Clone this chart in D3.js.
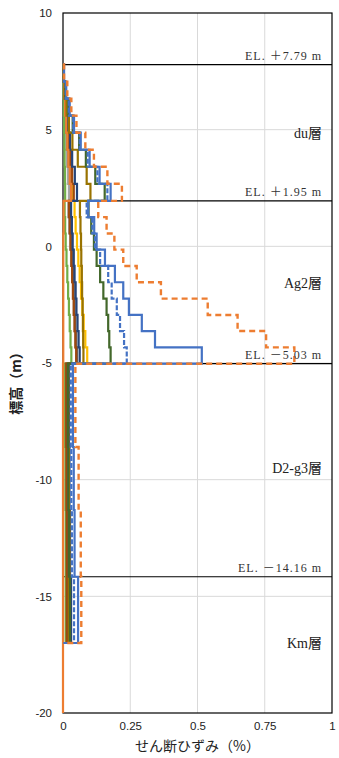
<!DOCTYPE html>
<html>
<head>
<meta charset="utf-8">
<title>せん断ひずみ分布</title>
<script src="https://cdn.jsdelivr.net/npm/d3@7"></script>
<style>
body { margin: 0; background: #fff; }
svg { display: block; }
.tick text { font-family: "Liberation Sans", Arial, sans-serif; font-size: 11.5px; fill: #222; }
.layer { font-family: "Liberation Serif", "Noto Sans CJK JP", serif; font-size: 14px; fill: #222; }
.el { font-family: "Liberation Serif", "Noto Sans CJK JP", serif; font-size: 12px; fill: #333; letter-spacing: 1px; }
.title { font-family: "Noto Sans CJK JP", sans-serif; font-size: 14px; fill: #222; }
</style>
</head>
<body>
<div id="chart"></div>
<script>
// sublayer boundaries (elevation, m), top to bottom
var bounds = [7.79, 7.06, 6.33, 5.60, 4.87, 4.14, 3.41, 2.68, 1.95,
    1.25, 0.55, -0.14, -0.84, -1.54, -2.24, -2.94, -3.63, -4.33, -5.03,
    -8.6, -11.3, -14.16, -17.0, -20.0];

// shear strain (%) per sublayer: du(8), Ag2(10), D2-g3(3), Km(1)
var gray      = [0.001, 0.003, 0.006, 0.009, 0.012, 0.015, 0.018, 0.022,
    0.020, 0.023, 0.027, 0.030, 0.034, 0.037, 0.040, 0.043, 0.046, 0.050,
    0.010, 0.011, 0.012, 0.012];
var green     = [0.001, 0.002, 0.003, 0.004, 0.005, 0.006, 0.007, 0.008,
    0.006, 0.008, 0.010, 0.013, 0.016, 0.019, 0.022, 0.025, 0.028, 0.031,
    0.008, 0.009, 0.010, 0.010];
var gold      = [0.001, 0.004, 0.008, 0.013, 0.018, 0.024, 0.030, 0.036,
    0.043, 0.047, 0.052, 0.057, 0.062, 0.067, 0.072, 0.077, 0.083, 0.090,
    0.015, 0.016, 0.017, 0.015];
var darkGray  = [0.002, 0.005, 0.009, 0.013, 0.017, 0.021, 0.026, 0.030,
    0.025, 0.028, 0.031, 0.034, 0.037, 0.040, 0.043, 0.046, 0.049, 0.052,
    0.014, 0.015, 0.016, 0.016];
var brown     = [0.002, 0.006, 0.011, 0.016, 0.022, 0.028, 0.034, 0.040,
    0.022, 0.025, 0.028, 0.031, 0.034, 0.037, 0.040, 0.043, 0.046, 0.049,
    0.012, 0.013, 0.014, 0.014];
var darkBlue  = [0.002, 0.006, 0.012, 0.018, 0.026, 0.034, 0.044, 0.052,
    0.030, 0.033, 0.036, 0.040, 0.043, 0.047, 0.050, 0.054, 0.058, 0.062,
    0.022, 0.024, 0.026, 0.030];
var orange    = [0.002, 0.005, 0.008, 0.012, 0.016, 0.020, 0.025, 0.030,
    0.002, 0.002, 0.001, 0.001, 0.001, 0.001, 0.001, 0.001, 0.001, 0.001,
    0, 0, 0, 0, 0];
var darkGold  = [0.002, 0.006, 0.013, 0.022, 0.035, 0.055, 0.088, 0.102,
    0.063, 0.065, 0.067, 0.068, 0.070, 0.071, 0.073, 0.074, 0.075, 0.076,
    0.020, 0.022, 0.024, 0.022];
var darkGreen = [0.003, 0.009, 0.020, 0.036, 0.060, 0.085, 0.120, 0.155,
    0.095, 0.105, 0.115, 0.125, 0.138, 0.150, 0.162, 0.168, 0.172, 0.177,
    0.018, 0.020, 0.022, 0.026];
var blueDash  = [0.003, 0.010, 0.022, 0.038, 0.062, 0.092, 0.128, 0.165,
    0.088, 0.109, 0.119, 0.138, 0.168, 0.181, 0.200, 0.212, 0.227, 0.237,
    0.029, 0.031, 0.033, 0.041];
var blue      = [0.004, 0.012, 0.025, 0.041, 0.066, 0.099, 0.136, 0.177,
    0.094, 0.116, 0.125, 0.156, 0.193, 0.224, 0.245, 0.293, 0.342, 0.516,
    0.037, 0.040, 0.043, 0.056];
var orangeDash = [0.004, 0.016, 0.031, 0.050, 0.083, 0.115, 0.165, 0.219,
    0.131, 0.162, 0.191, 0.224, 0.274, 0.364, 0.538, 0.649, 0.755, 0.860,
    0.046, 0.058, 0.066, 0.068];

// layer boundaries and labels
var layerLines = [7.79, 1.95, -5.03, -14.16];
var elLabels = ["EL. ＋7.79 m", "EL. ＋1.95 m", "EL. －5.03 m", "EL. －14.16 m"];
var layerNames = ["du層", "Ag2層", "D2-g3層", "Km層"];
var layerMid = [4.86, -1.57, -9.5, -17.0];

var xTicks = [0, 0.25, 0.5, 0.75, 1],
    yTicks = [10, 5, 0, -5, -10, -15, -20];

var series = [
    { v: gray, c: "#A5A5A5" },
    { v: green, c: "#70AD47" },
    { v: gold, c: "#FFC000" },
    { v: darkGray, c: "#636363" },
    { v: brown, c: "#9E480E" },
    { v: darkBlue, c: "#264478" },
    { v: orange, c: "#ED7D31" },
    { v: darkGold, c: "#997300" },
    { v: darkGreen, c: "#43682B" },
    { v: blueDash, c: "#4472C4", dash: "5,2" },
    { v: blue, c: "#4472C4" },
    { v: orangeDash, c: "#ED7D31", dash: "6,4", w: 2.4 }
];

var width = 339, height = 758;
var margin = {top: 13, right: 7, bottom: 45, left: 63};

var x = d3.scaleLinear()
    .domain([0, 1])
    .range([margin.left, width - margin.right]);
var y = d3.scaleLinear()
    .domain([-20, 10])
    .range([height - margin.bottom, margin.top]);

var svg = d3.select('#chart').append('svg')
    .attr('width', width)
    .attr('height', height);

// grid
svg.append('g')
    .selectAll('line.vg')
    .data(xTicks.slice(1, -1))
  .enter().append('line')
    .attr('x1', d => x(d)).attr('x2', d => x(d))
    .attr('y1', y(10)).attr('y2', y(-20))
    .attr('stroke', '#d9d9d9').attr('stroke-width', 1);
svg.append('g')
    .selectAll('line.hg')
    .data(yTicks.slice(1, -1))
  .enter().append('line')
    .attr('x1', x(0)).attr('x2', x(1))
    .attr('y1', d => y(d)).attr('y2', d => y(d))
    .attr('stroke', '#d9d9d9').attr('stroke-width', 1);

// frame
svg.append('rect')
    .attr('x', x(0)).attr('y', y(10))
    .attr('width', x(1) - x(0)).attr('height', y(-20) - y(10))
    .attr('fill', 'none').attr('stroke', '#000').attr('stroke-width', 1.2);

// layer boundaries
svg.append('g')
    .selectAll('line')
    .data(layerLines)
  .enter().append('line')
    .attr('x1', x(0)).attr('x2', x(1))
    .attr('y1', d => y(d)).attr('y2', d => y(d))
    .attr('stroke', '#000').attr('stroke-width', 1.2);

// step profiles
function stepPoints(vals) {
    var pts = [[0, bounds[0]]];
    vals.forEach(function(v, i) {
        pts.push([v, bounds[i]]);
        pts.push([v, bounds[i + 1]]);
    });
    pts.push([0, bounds[vals.length]]);
    return pts;
}
var line = d3.line()
    .x(d => x(d[0]))
    .y(d => y(d[1]));

svg.append('g')
    .selectAll('path')
    .data(series)
  .enter().append('path')
    .attr('d', d => line(stepPoints(d.v)))
    .attr('fill', 'none')
    .attr('stroke', d => d.c)
    .attr('stroke-width', d => d.w || 2.2)
    .attr('stroke-dasharray', d => d.dash || null);

// axes
var yAxis = d3.axisLeft(y)
    .tickValues(yTicks)
    .tickFormat(d => String(d))
    .tickSize(0)
    .tickPadding(11);
svg.append('g')
    .attr('transform', 'translate(' + x(0) + ',0)')
    .call(yAxis)
    .call(g => g.select('.domain').remove());

var xAxis = d3.axisBottom(x)
    .tickValues(xTicks)
    .tickFormat(d => String(d))
    .tickSize(0)
    .tickPadding(9);
svg.append('g')
    .attr('transform', 'translate(0,' + y(-20) + ')')
    .call(xAxis)
    .call(g => g.select('.domain').remove());

// EL labels
svg.append('g')
    .selectAll('text')
    .data(layerLines)
  .enter().append('text')
    .attr('class', 'el')
    .attr('x', x(1) - 10)
    .attr('y', d => y(d) - 5)
    .attr('text-anchor', 'end')
    .text((d, i) => elLabels[i]);

// layer names
svg.append('g')
    .selectAll('text')
    .data(layerMid)
  .enter().append('text')
    .attr('class', 'layer')
    .attr('x', x(1) - 10)
    .attr('y', d => y(d))
    .attr('dy', '0.35em')
    .attr('text-anchor', 'end')
    .text((d, i) => layerNames[i]);

// axis titles
svg.append('text')
    .attr('class', 'title')
    .attr('x', (x(0) + x(1)) / 2)
    .attr('y', 751)
    .attr('text-anchor', 'middle')
    .text('せん断ひずみ（%）');

svg.append('text')
    .attr('class', 'title')
    .attr('transform', 'translate(21,380) rotate(-90)')
    .attr('text-anchor', 'middle')
    .attr('font-weight', 'bold')
    .text('標高（m）');
</script>
</body>
</html>
